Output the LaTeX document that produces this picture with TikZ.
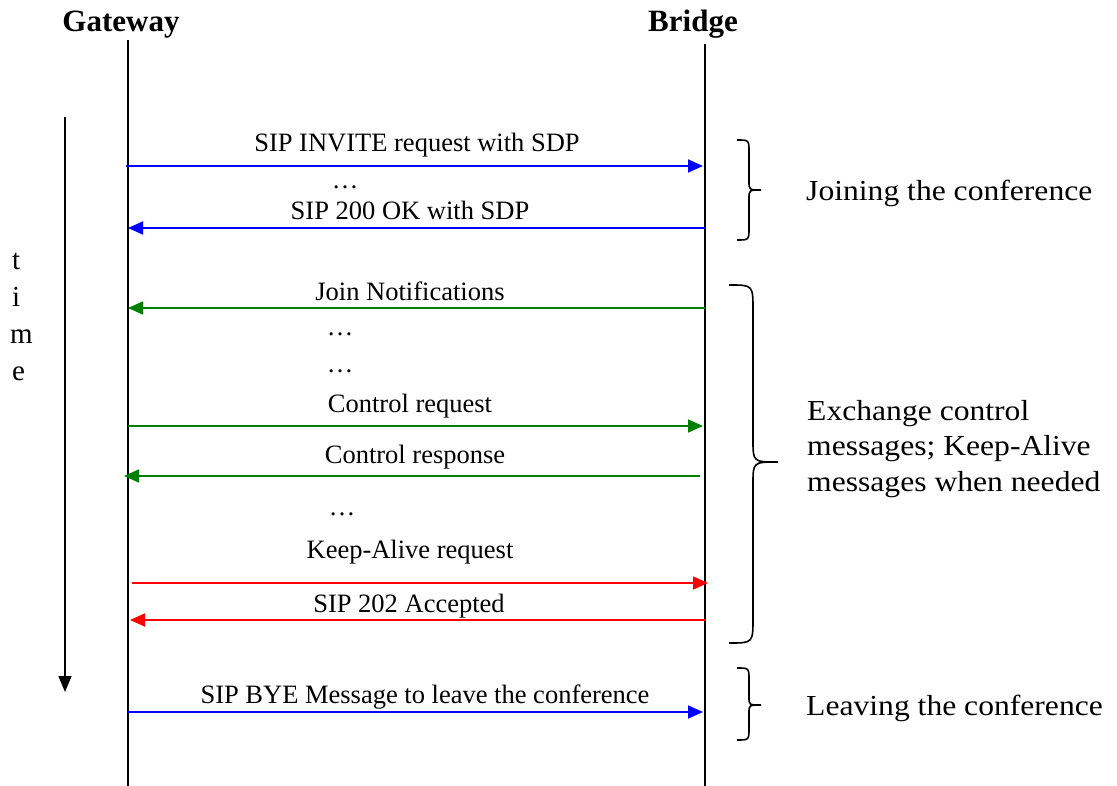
\documentclass[tikz,border=0pt]{standalone}
\usepackage{fontspec}
\setmainfont{Liberation Serif}
\usetikzlibrary{arrows.meta}
\definecolor{msgblue}{RGB}{0,0,255}
\definecolor{msggreen}{RGB}{0,128,0}
\definecolor{msgred}{RGB}{255,0,0}
\tikzset{
  lifeline/.style={line width=1.8pt, black},
  msg/.style={line width=1.8pt, -{Triangle[length=15pt,width=13pt]}},
  lbl/.style={anchor=base, inner sep=0pt, font=\fontsize{26.5}{30}\selectfont},
  dots/.style={anchor=base, inner sep=0pt, font=\fontsize{26.5}{30}\selectfont},
  title/.style={anchor=base, inner sep=0pt, font=\fontsize{31}{34}\selectfont\bfseries},
  side/.style={anchor=base west, inner sep=0pt, font=\fontsize{29}{35.5}\selectfont, xscale=1.09, align=left},
  timechar/.style={anchor=base west, inner sep=0pt, font=\fontsize{29}{32}\selectfont},
  bracepath/.style={line width=1.6pt, black},
}
\begin{document}
\begin{tikzpicture}[x=1pt,y=-1pt]
\useasboundingbox (0,0) rectangle (1117,786);
% titles
\node[title] (gwt) at (121,32) {Gateway};
\node[title] (brt) at (693,32) {Bridge};
% lifelines
\coordinate (gtop) at (128,40);
\coordinate (gbot) at (128,786);
\coordinate (btop) at (705,44);
\coordinate (bbot) at (705,786);
\draw[lifeline] (gtop) -- (gbot);
\draw[lifeline] (btop) -- (bbot);
% time arrow
\coordinate (ttop) at (65,117);
\coordinate (tbot) at (65,692);
\draw[line width=1.6pt, -{Triangle[length=16pt,width=13pt]}] (ttop) -- (tbot);
\node[timechar] (t1) at (12,270) {t};
\node[timechar] (t2) at (12,307) {i};
\node[timechar] (t3) at (10,344) {m};
\node[timechar] (t4) at (12,381) {e};
% messages
\coordinate (a1) at (126,166); \coordinate (b1) at (703,166);
\draw[msg, msgblue] (a1) -- (b1);
\node[lbl] (l1) at (417,152) {SIP INVITE request with SDP};
\node[dots] (d1) at (345,189) {\dots};
\coordinate (a2) at (128,228); \coordinate (b2) at (705,228);
\draw[msg, msgblue] (b2) -- (a2);
\node[lbl] (l2) at (410,220) {SIP 200 OK with SDP};
\coordinate (a3) at (128,308); \coordinate (b3) at (705,308);
\draw[msg, msggreen] (b3) -- (a3);
\node[lbl] (l3) at (410,301) {Join Notifications};
\node[dots] (d2) at (340,336) {\dots};
\node[dots] (d3) at (340,373) {\dots};
\coordinate (a4) at (128,426); \coordinate (b4) at (703,426);
\draw[msg, msggreen] (a4) -- (b4);
\node[lbl] (l4) at (410,413) {Control request};
\coordinate (a5) at (124,476); \coordinate (b5) at (700,476);
\draw[msg, msggreen] (b5) -- (a5);
\node[lbl] (l5) at (415,463) {Control response};
\node[dots] (d4) at (342,515) {\dots};
\coordinate (a6) at (132,583); \coordinate (b6) at (708,583);
\draw[msg, msgred] (a6) -- (b6);
\node[lbl] (l6) at (410,558) {Keep-Alive request};
\coordinate (a7) at (130,620); \coordinate (b7) at (706,620);
\draw[msg, msgred] (b7) -- (a7);
\node[lbl] (l7) at (409,612) {SIP 202 Accepted};
\coordinate (a8) at (128,712); \coordinate (b8) at (703,712);
\draw[msg, msgblue] (a8) -- (b8);
\node[lbl] (l8) at (425,703) {SIP BYE Message to leave the conference};
% braces
\draw[bracepath] (737,140) .. controls (749,140) .. (749,152) -- (749,181) .. controls (749,190) .. (761,190) .. controls (749,190) .. (749,199) -- (749,228) .. controls (749,240) .. (737,240);
\draw[bracepath] (729,285) .. controls (753,285) .. (753,310) -- (753,440) .. controls (753,462) .. (778,462) .. controls (753,462) .. (753,484) -- (753,618) .. controls (753,643) .. (729,643);
\draw[bracepath] (737,668) .. controls (749,668) .. (749,680) -- (749,697) .. controls (749,705) .. (761,705) .. controls (749,705) .. (749,713) -- (749,728) .. controls (749,740) .. (737,740);
% side texts
\node[side] (s1) at (806,201) {Joining the conference};
\node[side] (s2) at (807,491) {Exchange control\\messages; Keep-Alive\\messages when needed};
\node[side] (s3) at (806,715) {Leaving the conference};
\end{tikzpicture}
\end{document}
